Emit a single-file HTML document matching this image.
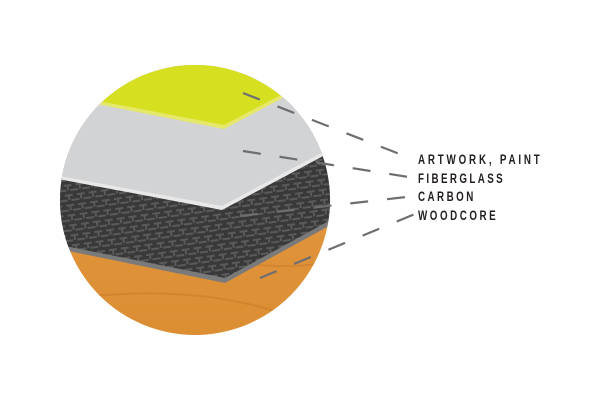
<!DOCTYPE html>
<html><head><style>html,body{margin:0;padding:0;background:#fff}svg{display:block}</style></head>
<body>
<svg width="600" height="400" viewBox="0 0 600 400" xmlns="http://www.w3.org/2000/svg">
<defs>
<clipPath id="c"><circle cx="195" cy="200" r="135"/></clipPath>
<pattern id="cf" width="12" height="10" patternUnits="userSpaceOnUse" patternTransform="rotate(-8)">
<rect width="12" height="10" fill="#393939"/>
<path d="M1 3h8M5 3v5M7 8h8M-5 8h8" stroke="#5a5a5a" stroke-width="2" fill="none"/>
</pattern>
<linearGradient id="wd" x1="0" y1="0" x2="0" y2="1">
<stop offset="0" stop-color="#e9a04a"/><stop offset="1" stop-color="#d98a2e"/>
</linearGradient>
</defs>
<g clip-path="url(#c)">
<rect x="0" y="0" width="400" height="400" fill="url(#wd)"/>
<path d="M40 80 Q150 300 340 260 M60 300 Q200 280 300 320" stroke="#c87a2a" stroke-width="2" fill="none" opacity=".5"/>
<polygon points="0,0 400,0 400,187 225,283 0,237" fill="#7a7a7a"/>
<polygon points="0,0 400,0 400,182 225,278 0,233" fill="url(#cf)"/>
<polygon points="0,0 400,0 400,115 222,210 0,168" fill="#e8e8e8"/>
<polygon points="0,0 400,0 400,111 222,206 0,165" fill="#d2d3d5"/>
<polygon points="0,0 400,0 400,36 224,129 0,85" fill="#e6e86a"/>
<polygon points="0,0 400,0 400,32 224,125 0,82" fill="#d6df20"/>
</g>
<g stroke="#6d6e71" stroke-width="2.2" fill="none">
<line x1="243" y1="93" x2="415" y2="160" stroke-dasharray="18 19"/>
<line x1="243" y1="151" x2="415" y2="178" stroke-dasharray="18 19"/>
<line x1="240" y1="216" x2="415" y2="196" stroke-dasharray="18 19"/>
<line x1="260" y1="278" x2="415" y2="214" stroke-dasharray="18 19"/>
</g>
<g font-family="Liberation Sans, sans-serif" font-weight="bold" font-size="14" fill="#231f20">
<text transform="translate(418,164) scale(0.7,1)" textLength="174" lengthAdjust="spacing">ARTWORK, PAINT</text>
<text transform="translate(418,183) scale(0.7,1)" textLength="121" lengthAdjust="spacing">FIBERGLASS</text>
<text transform="translate(418,201) scale(0.7,1)" textLength="79" lengthAdjust="spacing">CARBON</text>
<text transform="translate(418,220) scale(0.7,1)" textLength="111" lengthAdjust="spacing">WOODCORE</text>
</g>
</svg>
</body></html>
